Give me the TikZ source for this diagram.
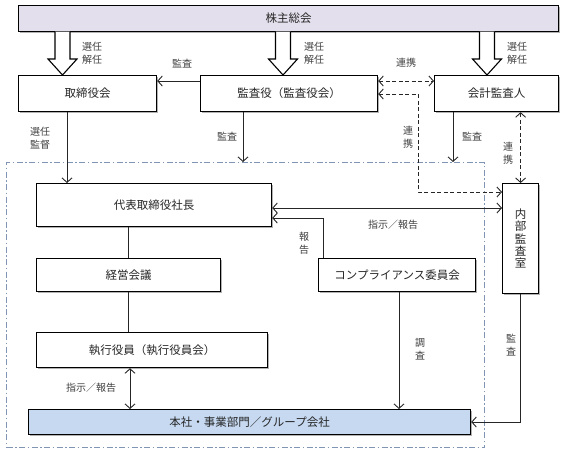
\documentclass[tikz,border=0pt]{standalone}
\usepackage{fontspec}
\setmainfont{Noto Sans CJK JP}
\usetikzlibrary{arrows.meta,shadows}
\definecolor{lav}{HTML}{E4DFEC}
\definecolor{lblue}{HTML}{C6D9F1}
\definecolor{framec}{HTML}{7F95B3}
\definecolor{txt}{HTML}{262626}
\definecolor{lbltxt}{HTML}{404040}
\definecolor{ln}{HTML}{262626}
\begin{document}
\begin{tikzpicture}[x=1pt,y=-1pt,
  box/.style={draw=black,line width=1.2pt,fill=white,anchor=north west,inner sep=0pt,
    text=txt,font=\fontsize{11.5}{14}\selectfont,
    drop shadow={shadow xshift=1.5pt,shadow yshift=-1.5pt,fill=black,opacity=.3}},
  lbl/.style={text=lbltxt,font=\fontsize{10}{13}\selectfont,inner sep=0pt,align=center},
  conn/.style={draw=ln,line width=0.9pt},
  arr/.style={conn,-{Straight Barb[length=4.5pt,width=10pt]}},
  darr/.style={conn,{Straight Barb[length=4.5pt,width=10pt]}-{Straight Barb[length=4.5pt,width=10pt]}},
  dsh/.style={dash pattern=on 4pt off 2.5pt},
  hollow/.style={draw=black,line width=1.1pt,fill=white,line join=miter}]
\useasboundingbox (0,0) rectangle (577,453);

% dash-dot frame
\node[draw=framec,line width=1.2pt,dash pattern=on 6pt off 2.5pt on 1.5pt off 2.5pt,
  anchor=north west,inner sep=0pt,minimum width=478pt,minimum height=285pt] (frm) at (6,162) {};

% boxes
\node[box,fill=lav,minimum width=540pt,minimum height=26pt] (top) at (18,5) {株主総会};
\node[box,minimum width=138pt,minimum height=36pt] (tori) at (18,75) {取締役会};
\node[box,minimum width=177pt,minimum height=36pt] (kansa) at (200,75) {監査役（監査役会）};
\node[box,minimum width=124pt,minimum height=36pt] (kaikei) at (434,75) {会計監査人};
\node[box,minimum width=235pt,minimum height=43pt] (daihyo) at (36,183) {代表取締役社長};
\node[box,minimum width=36pt,minimum height=110pt,align=center,font=\fontsize{11.5}{12.4}\selectfont] (naibu) at (502,183) {内\\部\\監\\査\\室};
\node[box,minimum width=184pt,minimum height=33pt] (keiei) at (36,258) {経営会議};
\node[box,minimum width=157pt,minimum height=33pt] (compl) at (318,258) {コンプライアンス委員会};
\node[box,minimum width=231pt,minimum height=35pt] (shikko) at (36,332) {執行役員（執行役員会）};
\node[box,fill=lblue,minimum width=442pt,minimum height=25pt] (honsha) at (28,409) {本社・事業部門／グループ会社};

% hollow arrows from top bar
\foreach \xc in {62.5,283,487}{
  \draw[hollow] (\xc-7.5,31.6) -- (\xc-7.5,59) -- (\xc-14.5,59) -- (\xc,75) -- (\xc+14.5,59) -- (\xc+7.5,59) -- (\xc+7.5,31.6);
}
\foreach \xl in {82,304,507}{
  \node[lbl,anchor=north west] at (\xl,42) {選任\\解任};
}

% connectors
\draw[arr] (kansa.west |- 0,81) -- (tori.east |- 0,81);
\node[lbl] at (182,64) {監査};
\draw[darr,dsh] (kansa.east |- 0,81) -- (kaikei.west |- 0,81);
\node[lbl] at (406,63) {連携};
\draw[darr,dsh] (kansa.east |- 0,94) -- (418,94) -- (418,192) -- (naibu.west |- 0,192);
\node[lbl] at (408,137) {連\\携};

\draw[arr] (tori.south -| 67,0) -- (daihyo.north -| 67,0);
\node[lbl] at (40,138) {選任\\監督};
\draw[arr] (kansa.south -| 243,0) -- (frm.north -| 243,0);
\node[lbl] at (227,137) {監査};
\draw[arr] (kaikei.south -| 453,0) -- (frm.north -| 453,0);
\node[lbl] at (472,137) {監査};
\draw[darr,dsh] (kaikei.south -| naibu.north) -- (naibu.north);
\node[lbl] at (508,153) {連\\携};

\draw[darr] (daihyo.east |- 0,208) -- (naibu.west |- 0,208);
\node[lbl] at (393,225) {指示／報告};
\draw[arr] (compl.north -| 323,0) -- (323,218) -- (daihyo.east |- 0,218);
\node[lbl] at (304,243) {報\\告};

\draw[conn] (daihyo.south -| 128,0) -- (keiei.north -| 128,0);
\draw[conn] (keiei.south -| 128,0) -- (shikko.north -| 128,0);
\draw[darr] (shikko.south -| 130,0) -- (honsha.north -| 130,0);
\node[lbl] at (91,388) {指示／報告};
\draw[arr] (compl.south -| 399,0) -- (honsha.north -| 399,0);
\node[lbl] at (420,349) {調\\査};
\draw[arr] (naibu.south) -- (naibu.south |- 0,422) -- (honsha.east |- 0,422);
\node[lbl] at (511,345) {監\\査};
\end{tikzpicture}
\end{document}
